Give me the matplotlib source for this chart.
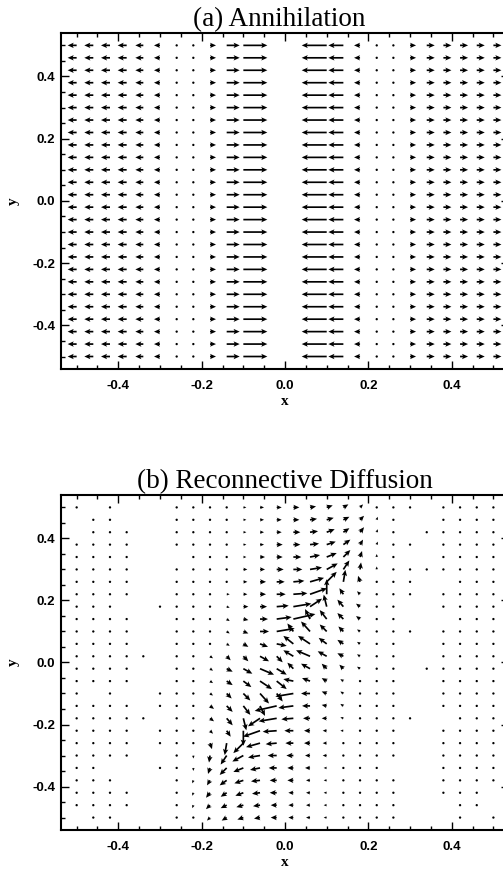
import numpy as np
import matplotlib.pyplot as plt
from matplotlib.ticker import MultipleLocator

# 26 x 26 grid, arrows start at the grid point (IDL velovect style)
x_grid = np.linspace(-0.5, 0.5, 26)
y_grid = np.linspace(0.5, -0.5, 26)  # top row first

# (a) Annihilation: arrow x-component per column (pixels), None = nothing drawn
a_u = [-9, -9, -9, -9, -8, -6, 0, 0, 6, 13, 24, None, None, None, None,
       -25, -15, -6, 0, 0, 6, 8, 8, 8, 8, 8]

# (b) Reconnective Diffusion: arrow components (pixels, v up), one string per row
# from the top, 'x' = nothing drawn at that grid point
b_u = [
    "0 x 0 x x x 0 0 0 2 3 4 5 6 6 6 5 3 1 0 0 x 0 0 0 0",
    "x 0 0 x x x 0 0 0 2 3 4 5 6 7 7 6 4 1 0 x x 0 0 0 0",
    "x 0 0 0 x x 0 0 0 2 3 4 5 7 8 8 6 4 1 0 x 0 0 0 0 0",
    "0 0 0 0 x x 0 0 0 2 3 4 6 7 9 9 7 3 1 0 0 x 0 0 0 0",
    "0 0 0 0 x x x 0 0 2 3 5 6 8 10 10 7 2 0 0 x x 0 0 0 0",
    "0 0 0 0 x x 0 0 0 2 4 5 7 9 12 11 6 1 0 0 0 0 0 0 0 0",
    "0 0 0 0 x x 0 0 0 2 4 6 8 11 14 10 2 -2 0 0 0 x x 0 0 0",
    "0 0 0 0 x x 0 0 0 3 4 6 9 14 17 0 -4 -3 0 0 0 x 0 0 0 0",
    "0 0 0 x x 0 0 0 2 3 5 7 12 18 12 -3 -6 -4 0 0 x x 0 0 0 0",
    "0 0 0 0 x x 0 0 2 3 5 8 15 22 -5 -7 -6 -4 0 0 x x x 0 0 0",
    "0 0 0 0 x x 0 0 2 3 5 9 18 -6 -9 -7 -5 -3 0 0 0 x 0 0 0 0",
    "0 0 0 0 x x 0 0 2 3 5 8 10 -10 -12 -8 -6 -3 0 0 x x 0 0 0 0",
    "0 0 0 0 0 x 0 2 3 4 5 9 6 -10 -14 -9 -6 -3 0 0 x x 0 0 0 0",
    "0 0 0 0 x x 0 0 3 6 9 14 10 -6 -9 -5 -4 -3 -2 0 x 0 0 0 0 0",
    "0 0 0 0 x x 0 0 3 6 8 12 10 -10 -8 -5 -3 -2 0 0 x x 0 0 0 0",
    "0 x 0 x x 0 0 0 3 5 7 9 6 -18 -9 -5 -3 -2 0 0 x x 0 0 0 0",
    "0 0 0 0 x 0 0 0 4 6 7 5 -22 -15 -8 -5 -3 -2 0 0 x x 0 0 0 0",
    "0 0 0 0 0 x 0 0 4 6 3 -12 -18 -12 -7 -5 -3 -2 0 0 0 x x 0 0 0",
    "0 0 0 0 x 0 0 0 3 4 0 -17 -14 -9 -6 -4 -3 0 0 0 x x 0 0 0 0",
    "0 0 0 0 x 0 0 0 2 -2 -10 -14 -11 -8 -6 -4 -2 0 0 0 x x 0 0 0 0",
    "0 0 0 0 x x 0 0 -1 -6 -11 -12 -9 -7 -5 -4 -2 0 0 0 x x 0 0 0 0",
    "0 0 x x x 0 0 0 -2 -7 -10 -10 -8 -6 -5 -3 -2 0 0 x x x 0 0 0 0",
    "0 0 0 x x x 0 -1 -3 -7 -9 -9 -7 -6 -4 -3 -2 0 0 0 x x 0 0 0 0",
    "0 0 0 0 x x 0 -1 -4 -6 -8 -8 -7 -5 -4 -3 -2 0 0 0 x x 0 0 0 x",
    "0 0 0 0 x x 0 -1 -4 -6 -7 -7 -6 -5 -4 -3 -2 0 0 0 x x x 0 0 x",
    "x 0 0 x x x 0 -1 -3 -5 -6 -6 -6 -5 -4 -3 -2 0 0 0 x x x 0 x 0",
]
b_v = [
    "0 x 0 x x x 0 0 0 0 0 0 0 0 1 2 3 3 2 0 0 x 0 0 0 0",
    "x 0 0 x x x 0 0 0 0 0 0 0 0 1 2 3 4 3 0 x x 0 0 0 0",
    "x 0 0 0 x x 0 0 0 0 0 0 0 0 1 3 4 5 3 0 x 0 0 0 0 0",
    "0 0 0 0 x x 0 0 0 0 0 0 0 0 1 3 5 5 3 0 0 x 0 0 0 0",
    "0 0 0 0 x x x 0 0 0 0 0 0 0 2 4 7 6 3 0 x x 0 0 0 0",
    "0 0 0 0 x x 0 0 0 0 0 0 0 0 2 6 9 7 3 0 0 0 0 0 0 0",
    "0 0 0 0 x x 0 0 0 0 0 0 0 1 4 10 12 6 0 0 0 x x 0 0 0",
    "0 0 0 0 x x 0 0 0 0 0 0 0 1 6 15 6 3 0 0 0 x 0 0 0 0",
    "0 0 0 x x 0 0 0 0 -1 0 0 1 3 8 12 7 3 0 0 x x 0 0 0 0",
    "0 0 0 0 x x 0 0 -1 -2 -1 0 2 5 10 9 6 3 0 0 x x x 0 0 0",
    "0 0 0 0 x x 0 0 -1 -2 -2 0 3 8 10 7 5 2 0 0 0 x 0 0 0 0",
    "0 0 0 0 x x 0 0 -1 -2 -3 -3 -2 8 8 6 4 2 0 0 x x 0 0 0 0",
    "0 0 0 0 0 x 0 -1 -2 -4 -5 -5 -6 6 6 5 3 2 0 0 x x 0 0 0 0",
    "0 0 0 0 x x 0 0 -2 -3 -5 -6 -6 6 5 5 4 2 1 0 x 0 0 0 0 0",
    "0 0 0 0 x x 0 0 -2 -4 -6 -8 -8 2 3 3 2 1 0 0 x x 0 0 0 0",
    "0 x 0 x x 0 0 0 -2 -5 -7 -10 -8 -3 0 2 2 1 0 0 x x 0 0 0 0",
    "0 0 0 0 x 0 0 0 -3 -6 -9 -10 -5 -2 0 1 2 1 0 0 x x 0 0 0 0",
    "0 0 0 0 0 x 0 0 -3 -7 -12 -8 -3 -1 0 0 1 0 0 0 0 x x 0 0 0",
    "0 0 0 0 x 0 0 0 -3 -6 -15 -6 -1 0 0 0 0 0 0 0 x x 0 0 0 0",
    "0 0 0 0 x 0 0 0 -6 -12 -10 -4 -1 0 0 0 0 0 0 0 x x 0 0 0 0",
    "0 0 0 0 x x 0 -3 -7 -9 -6 -2 0 0 0 0 0 0 0 0 x x 0 0 0 0",
    "0 0 x x x 0 0 -3 -6 -7 -4 -2 0 0 0 0 0 0 0 x x x 0 0 0 0",
    "0 0 0 x x x 0 -3 -5 -5 -3 -1 0 0 0 0 0 0 0 0 x x 0 0 0 0",
    "0 0 0 0 x x 0 -3 -5 -4 -3 -1 0 0 0 0 0 0 0 0 x x 0 0 0 x",
    "0 0 0 0 x x 0 -3 -4 -3 -2 -1 0 0 0 0 0 0 0 0 x x x 0 0 x",
    "x 0 0 x x x 0 -2 -3 -3 -2 -1 0 0 0 0 0 0 0 0 x x x 0 x 0",
]


def parse(rows):
    return np.array([[np.nan if t == 'x' else float(t) for t in r.split()] for r in rows])


fig = plt.figure(figsize=(5.03, 8.71), dpi=100)
ax_a = fig.add_axes([0.1213, 0.5764, 0.8907, 0.3858])
ax_b = fig.add_axes([0.1213, 0.0471, 0.8907, 0.3846])

X, Y = np.meshgrid(x_grid, y_grid)
ua = np.array([[np.nan if v is None else v for v in a_u]] * 26, dtype=float)
va = np.where(np.isnan(ua), np.nan, 0.0)
ub = parse(b_u)
vb = parse(b_v)

qkw = dict(angles='uv', scale_units='dots', scale=1, units='dots', width=1.7,
           headwidth=3.2, headlength=3.6, headaxislength=3.0, minlength=1.5,
           pivot='tail', color='black')

for ax, u, v, title, tx in [(ax_a, ua, va, '(a) Annihilation', 0.487),
                            (ax_b, ub, vb, '(b) Reconnective Diffusion', 0.5)]:
    ax.quiver(X, Y, np.ma.masked_invalid(u), np.ma.masked_invalid(v), **qkw)
    ax.set_xlim(-0.5375, 0.5375)
    ax.set_ylim(-0.54, 0.54)
    ax.xaxis.set_major_locator(MultipleLocator(0.2))
    ax.xaxis.set_minor_locator(MultipleLocator(0.05))
    ax.yaxis.set_major_locator(MultipleLocator(0.2))
    ax.yaxis.set_minor_locator(MultipleLocator(0.05))
    ax.tick_params(which='both', direction='in', top=True, right=True, width=1)
    ax.tick_params(which='major', length=6)
    ax.tick_params(which='minor', length=3)
    ax.tick_params(axis='x', which='major', pad=8)
    ax.tick_params(axis='y', which='major', pad=4)
    for sp in ax.spines.values():
        sp.set_linewidth(1.5)
    for lab in ax.get_xticklabels() + ax.get_yticklabels():
        lab.set_fontfamily('Liberation Sans')
        lab.set_fontweight('bold')
        lab.set_fontsize(9.5)
    ax.xaxis.set_major_formatter(plt.FuncFormatter(lambda t, p: '%.1f' % t))
    ax.yaxis.set_major_formatter(plt.FuncFormatter(lambda t, p: '%.1f' % t))
    ax.set_xlabel('x', family='Liberation Serif', weight='bold', fontsize=11, labelpad=2)
    ax.set_ylabel('y', family='Liberation Serif', weight='bold', fontsize=11, labelpad=9)
    ax.set_title(title, family='Liberation Serif', fontsize=19.5, pad=5, x=tx)

fig.savefig('out.png', dpi=100)
